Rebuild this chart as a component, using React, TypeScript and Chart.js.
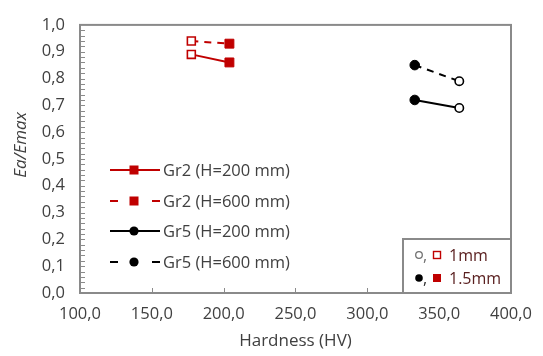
import { useEffect, useRef } from "react";
import { Chart, registerables } from "chart.js";

Chart.register(...registerables);

// Hardness (HV) of each grade
const hardnessGr2 = [177.5, 204];
const hardnessGr5 = [333, 364];

// Ea/Emax values
const gr2H200 = [0.89, 0.86];
const gr2H600 = [0.94, 0.93];
const gr5H200 = [0.72, 0.69];
const gr5H600 = [0.85, 0.79];

// true = 1.5mm sheet (filled marker), false = 1mm sheet (open marker)
const gr2Thick = [false, true];
const gr5Thick = [true, false];

const seriesLabels = ["Gr2 (H=200 mm)", "Gr2 (H=600 mm)", "Gr5 (H=200 mm)", "Gr5 (H=600 mm)"];
const thicknessLabels = ["1mm", "1.5mm"];

const xMin = 100;
const xMax = 400;
const xStep = 50;
const yMin = 0;
const yMax = 1;
const yStep = 0.1;
const yMinorStep = 0.02;

const RED = "#C00000";
const BLACK = "#000000";
const FRAME = "#8a8a8a";
const TEXT = "#404040";
const FONT = "'Open Sans', 'DejaVu Sans', sans-serif";

const comma = (v: number) => v.toFixed(1).replace(".", ",");

function makeSeries(label: string, xs: number[], ys: number[], thick: boolean[], color: string, style: "rect" | "circle", dashed: boolean) {
  return {
    label,
    data: xs.map((x, i) => ({ x, y: ys[i] })),
    borderColor: color,
    borderWidth: 2,
    borderDash: dashed ? [7, 6] : [],
    showLine: true,
    pointStyle: style,
    pointRadius: thick.map((t) => (style === "rect" ? (t ? 6.3 : 5.6) : t ? 4.8 : 4.2)),
    pointBackgroundColor: thick.map((t) => (t ? color : "#ffffff")),
    pointBorderColor: color,
    pointBorderWidth: thick.map((t) => (t ? 1 : 1.6)),
  };
}

const framePlugin = {
  id: "frame",
  afterDraw(chart: any) {
    const { ctx, chartArea: a, scales } = chart;
    const xs = scales.x;
    const ys = scales.y;
    ctx.save();

    // minor ticks on the value axis, inward
    ctx.strokeStyle = FRAME;
    ctx.lineWidth = 1;
    const nMinor = Math.round((yMax - yMin) / yMinorStep);
    for (let i = 1; i < nMinor; i++) {
      const y = Math.round(ys.getPixelForValue(yMin + i * yMinorStep)) + 0.5;
      ctx.beginPath();
      ctx.moveTo(a.left, y);
      ctx.lineTo(a.left + 5, y);
      ctx.stroke();
    }
    // major ticks on the hardness axis, inward
    for (let v = xMin + xStep; v < xMax; v += xStep) {
      const x = Math.round(xs.getPixelForValue(v)) + 0.5;
      ctx.beginPath();
      ctx.moveTo(x, a.bottom);
      ctx.lineTo(x, a.bottom - 5);
      ctx.stroke();
    }

    // plot frame
    ctx.lineWidth = 2;
    ctx.strokeRect(a.left, a.top, a.right - a.left, a.bottom - a.top);

    // series legend
    const rows = [170, 201, 231, 262];
    const styles = [
      { color: RED, shape: "rect", dashed: false },
      { color: RED, shape: "rect", dashed: true },
      { color: BLACK, shape: "circle", dashed: false },
      { color: BLACK, shape: "circle", dashed: true },
    ];
    const lx0 = 110;
    const lx1 = 160;
    const mx = 134;
    rows.forEach((y, i) => {
      const s = styles[i];
      ctx.strokeStyle = s.color;
      ctx.fillStyle = s.color;
      ctx.lineWidth = 2;
      ctx.beginPath();
      if (s.dashed) {
        ctx.moveTo(lx0, y);
        ctx.lineTo(lx0 + 8, y);
        ctx.moveTo(lx1 - 8, y);
        ctx.lineTo(lx1, y);
      } else {
        ctx.moveTo(lx0, y);
        ctx.lineTo(lx1, y);
      }
      ctx.stroke();
      if (s.shape === "rect") {
        ctx.fillRect(mx - 4.5, y - 4.5, 9, 9);
      } else {
        ctx.beginPath();
        ctx.arc(mx, y, 4.6, 0, Math.PI * 2);
        ctx.fill();
      }
      ctx.fillStyle = TEXT;
      ctx.font = `16.5px ${FONT}`;
      ctx.textAlign = "left";
      ctx.textBaseline = "middle";
      ctx.fillText(seriesLabels[i], 163, y + 1);
    });

    // sheet thickness legend box
    const bx = 403;
    const by = 239;
    ctx.fillStyle = "#ffffff";
    ctx.fillRect(bx, by, a.right - bx, a.bottom - by);
    ctx.strokeStyle = FRAME;
    ctx.lineWidth = 2;
    ctx.strokeRect(bx, by, a.right - bx, a.bottom - by);

    const r1 = 255;
    const r2 = 278;
    ctx.font = `16px ${FONT}`;
    ctx.textBaseline = "middle";
    ctx.textAlign = "left";
    // open markers (1mm)
    ctx.lineWidth = 1.3;
    ctx.strokeStyle = "#707070";
    ctx.beginPath();
    ctx.arc(419, r1, 3.3, 0, Math.PI * 2);
    ctx.stroke();
    ctx.fillStyle = "#707070";
    ctx.fillText(",", 423, r1 + 1);
    ctx.strokeStyle = RED;
    ctx.lineWidth = 1.4;
    ctx.strokeRect(433.5, r1 - 3.5, 7, 7);
    ctx.fillStyle = "#5a2020";
    ctx.fillText(thicknessLabels[0], 449, r1 + 1);
    // filled markers (1.5mm)
    ctx.fillStyle = BLACK;
    ctx.beginPath();
    ctx.arc(419, r2, 3.8, 0, Math.PI * 2);
    ctx.fill();
    ctx.fillStyle = "#303030";
    ctx.fillText(",", 423, r2 + 1);
    ctx.fillStyle = RED;
    ctx.fillRect(433, r2 - 4, 8, 8);
    ctx.fillStyle = "#5a2020";
    ctx.fillText(thicknessLabels[1], 449, r2 + 1);

    // axis titles
    ctx.fillStyle = TEXT;
    ctx.font = `17px ${FONT}`;
    ctx.textAlign = "center";
    ctx.textBaseline = "middle";
    ctx.fillText("Hardness (HV)", (a.left + a.right) / 2, 341);
    ctx.save();
    ctx.translate(21, 145);
    ctx.rotate(-Math.PI / 2);
    ctx.font = `italic 17px ${FONT}`;
    ctx.fillText("Ea/Emax", 0, 0);
    ctx.restore();

    ctx.restore();
  },
};

export default function App() {
  const ref = useRef<HTMLCanvasElement | null>(null);

  useEffect(() => {
    if (!ref.current) return;
    const chart = new Chart(ref.current, {
      type: "scatter",
      data: {
        datasets: [
          makeSeries(seriesLabels[0], hardnessGr2, gr2H200, gr2Thick, RED, "rect", false),
          makeSeries(seriesLabels[1], hardnessGr2, gr2H600, gr2Thick, RED, "rect", true),
          makeSeries(seriesLabels[2], hardnessGr5, gr5H200, gr5Thick, BLACK, "circle", false),
          makeSeries(seriesLabels[3], hardnessGr5, gr5H600, gr5Thick, BLACK, "circle", true),
        ] as any,
      },
      options: {
        animation: false,
        responsive: false,
        maintainAspectRatio: false,
        layout: { padding: { top: 16, right: 27, left: 0, bottom: 0 } },
        plugins: {
          legend: { display: false },
          tooltip: { enabled: false },
        },
        scales: {
          x: {
            type: "linear",
            min: xMin,
            max: xMax,
            grid: { display: false, drawTicks: false },
            border: { display: false },
            ticks: {
              stepSize: xStep,
              padding: 11,
              color: TEXT,
              font: { family: FONT, size: 16.5 },
              maxRotation: 0,
              callback: (v: any) => comma(Number(v)),
            },
            afterFit: (s: any) => {
              s.height = 63;
            },
          },
          y: {
            type: "linear",
            min: yMin,
            max: yMax,
            grid: { display: false, drawTicks: false },
            border: { display: false },
            ticks: {
              stepSize: yStep,
              padding: 15,
              color: TEXT,
              font: { family: FONT, size: 16.5 },
              callback: (v: any) => comma(Number(v)),
            },
            afterFit: (s: any) => {
              s.width = 80;
            },
          },
        },
      },
      plugins: [framePlugin],
    });
    return () => chart.destroy();
  }, []);

  return (
    <div style={{ position: "fixed", left: 0, top: 0, width: 543, height: 356, background: "#ffffff" }}>
      <canvas ref={ref} width={543} height={356} style={{ width: 543, height: 356 }} />
    </div>
  );
}
